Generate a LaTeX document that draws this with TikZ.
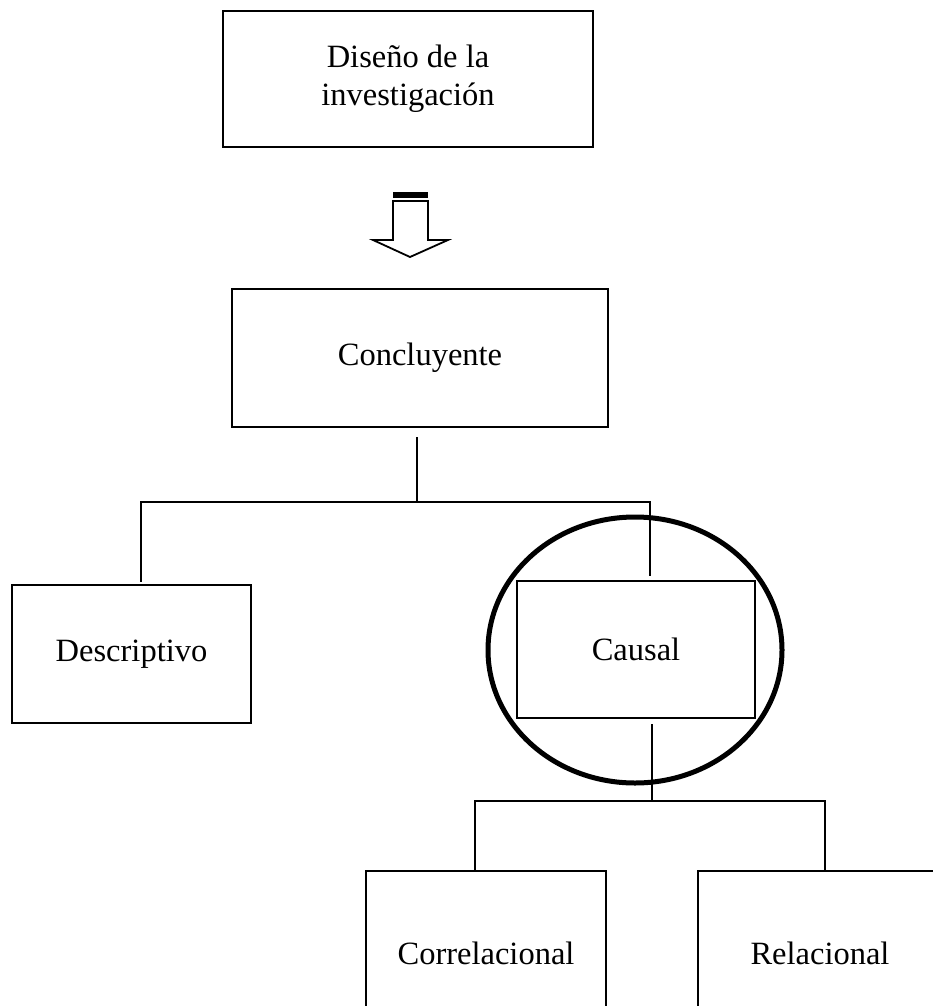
\documentclass[tikz,border=0pt]{standalone}
\usepackage{fontspec}
\setmainfont{Liberation Serif}
\usetikzlibrary{shapes.geometric}
\begin{document}
\begin{tikzpicture}[x=1pt,y=-1pt,
  box/.style={draw,line width=2.4pt,rectangle,inner sep=0pt,align=center,
    font=\fontsize{32.5}{38}\selectfont},
  link/.style={line width=2.4pt},
  ring/.style={draw,ellipse,line width=5pt,inner sep=0pt}]
  \useasboundingbox (0,0) rectangle (933,1006);
  \clip (0,0) rectangle (933,1006);

  % boxes
  \node[box,minimum width=370pt,minimum height=136pt] (top) at (408,79) {\raisebox{-5pt}{\begin{tabular}{@{}c@{}}Diseño de la\\investigación\end{tabular}}};
  \node[box,minimum width=376pt,minimum height=138pt] (conc) at (420,358) {Concluyente};
  \node[box,minimum width=239pt,minimum height=138pt] (desc) at (131.5,654) {Descriptivo};
  \node[box,minimum width=238pt,minimum height=137pt] (causal) at (636,649.5) {\raisebox{-5pt}{Causal}};
  \node[box,minimum width=240pt,minimum height=164pt] (corr) at (486,953) {Correlacional};
  \node[box,minimum width=244pt,minimum height=164pt] (rel) at (820,953) {Relacional};

  % highlight ring round the causal box
  \node[ring,minimum width=294pt,minimum height=266pt] (mark) at (635,650) {};

  % block arrow between the first two levels
  \fill (393,192) rectangle (428,198);
  \draw[line width=1.8pt,line join=miter]
    (393,201) -- (428,201) -- (428,240) -- (448,240) -- (410,257)
    -- (373,240) -- (393,240) -- cycle;

  % junction points of the tree
  \coordinate (j1) at (417,502);
  \coordinate (j2) at (652,801);

  % first split
  \draw[link] ([yshift=-9pt]conc.south -| j1) -- (j1);
  \draw[link] (j1) -| ([xshift=9.5pt,yshift=2pt]desc.north);
  \draw[link] (j1) -| ([xshift=14pt,yshift=4pt]causal.north);

  % second split
  \draw[link] ([xshift=16pt,yshift=-5pt]causal.south) -- (j2);
  \draw[link] (j2) -| (corr.north -| 475,0);
  \draw[link] (j2) -| ([xshift=5pt]rel.north);
\end{tikzpicture}
\end{document}
